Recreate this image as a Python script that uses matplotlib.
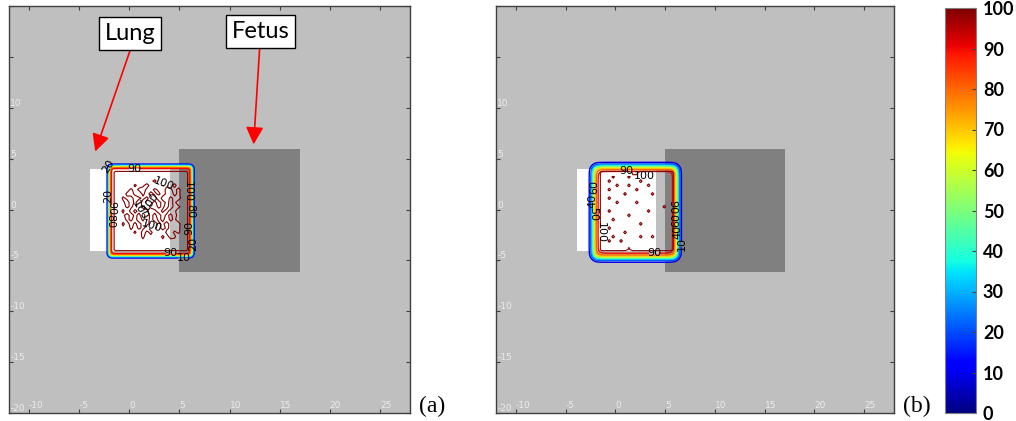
import numpy as np
import matplotlib
matplotlib.use("Agg")
import matplotlib.pyplot as plt
from matplotlib.patches import Rectangle
from matplotlib.colors import Normalize
from matplotlib.cm import ScalarMappable

# ---- data ----
dose_levels = [10, 20, 30, 40, 50, 60, 70, 80, 90]
hot_level = 100
cbar_ticks = [0, 10, 20, 30, 40, 50, 60, 70, 80, 90, 100]
x_ticks = [-10, -5, 0, 5, 10, 15, 20, 25]
y_ticks = [-20, -15, -10, -5, 0, 5, 10, 15, 20]
y_ticklabels = ["-20", "-15", "-10", "-5", "0", "5", "10", "", ""]

lung_x = [-3.9, 4.1]
lung_y = [-4.1, 4.0]
fetus_x = [5.0, 17.0]
fetus_y = [-6.1, 5.9]

# 50% field edges and penumbra width (cm) for the two plans
field_x_a = [-2.0, 6.25]
field_y_a = [-4.55, 4.25]
pen_a = 0.2
field_x_b = [-2.2, 6.2]
field_y_b = [-4.75, 4.2]
pen_b = 0.4
plateau = 99.0

# coarse dose grid inside the field, rows from top to bottom,
# one character per voxel (see dose_code for the % value)
dose_code = {".": 96.0, "0": 99.0, "1": 99.2, "2": 99.4, "3": 99.6, "4": 99.8,
             "6": 100.2, "7": 100.4, "8": 100.6, "9": 100.8, "#": 101.5}
node_x = np.linspace(-1.8, 6.1, 21)
node_y = np.linspace(-4.35, 4.05, 21)
voxels_a = [
    ".....................",
    ".###################.",
    ".#78877687778687787#.",
    ".#87768778647786876#.",
    ".#77684763787467387#.",
    ".#86747436746834738#.",
    ".#77436847364743647#.",
    ".#84673464738336437#.",
    ".#76374836463746487#.",
    ".#87463743674638347#.",
    ".#74836476347473487#.",
    ".#86374637463746378#.",
    ".#77463848374636487#.",
    ".#84736376436473438#.",
    ".#76847463747364347#.",
    ".#87674836476843648#.",
    ".#77868747687473487#.",
    ".#87787868778687787#.",
    ".#78877787877787877#.",
    ".###################.",
    ".....................",
]
voxels_b = [
    ".....................",
    ".########33#########.",
    ".#77477747774777777#.",
    ".#74777777747777777#.",
    ".#77747747777477777#.",
    ".#74777777477777777#.",
    ".#77777477777747777#.",
    ".#74777777777777777#.",
    ".#77747777477777777#.",
    ".#77777777777777747#.",
    ".#74777777777477777#.",
    ".#77777747777777777#.",
    ".#77477777777777777#.",
    ".#77777777747777777#.",
    ".#74777777777777777#.",
    ".#77777477777777777#.",
    ".#77477777747747777#.",
    ".#74774777777777777#.",
    ".#77777777777777777#.",
    ".#######3###########.",
    ".....................",
]

norm = Normalize(0, 100)
cmap = plt.get_cmap("jet")

gx = np.linspace(-6, 10, 641)
gy = np.linspace(-8, 8, 641)
GX, GY = np.meshgrid(gx, gy)


def field_dose(fx, fy, w):
    sx = 0.5 * (np.tanh((GX - fx[0]) / w) - np.tanh((GX - fx[1]) / w))
    sy = 0.5 * (np.tanh((GY - fy[0]) / w) - np.tanh((GY - fy[1]) / w))
    return plateau * sx * sy


def draw_panel(ax, fx, fy, w, voxels, labels):
    ax.set_facecolor("#bfbfbf")
    ax.add_patch(Rectangle((lung_x[0], lung_y[0]), lung_x[1] - lung_x[0],
                           lung_y[1] - lung_y[0], fc="white", ec="none", zorder=1))
    ax.add_patch(Rectangle((fetus_x[0], fetus_y[0]), fetus_x[1] - fetus_x[0],
                           fetus_y[1] - fetus_y[0], fc="#808080", ec="none", zorder=1))
    dose = field_dose(fx, fy, w)
    inner = np.array([[dose_code[c] for c in row] for row in voxels])[::-1]
    sets = {}
    for lev in dose_levels:
        sets[lev] = ax.contour(GX, GY, dose, levels=[lev], colors=[cmap(norm(lev))],
                               linewidths=1.0, zorder=2)
    sets[hot_level] = ax.contour(node_x, node_y, inner, levels=[hot_level],
                                 colors=[cmap(norm(hot_level))], linewidths=0.8, zorder=2)
    for lev, pts in labels:
        sets[lev].clabel(manual=pts, fontsize=8, colors="k",
                         inline=True, inline_spacing=1, fmt="%d")

    ax.set_xlim(-12, 28)
    ax.set_ylim(-20, 20)
    ax.set_xticks(x_ticks)
    ax.set_xticklabels([str(v) for v in x_ticks])
    ax.set_yticks(y_ticks)
    ax.set_yticklabels(y_ticklabels)
    ax.tick_params(axis="both", direction="in", length=3, width=0.8,
                   color="#404040", top=True, right=True, labelsize=6.5,
                   labelcolor="#ececec")
    ax.tick_params(axis="x", pad=-9)
    ax.tick_params(axis="y", pad=-1)
    for lab in ax.get_xticklabels():
        lab.set_ha("left")
    for lab in ax.get_yticklabels():
        lab.set_ha("left")
        lab.set_va("bottom")
    for sp in ax.spines.values():
        sp.set_color("#404040")
        sp.set_linewidth(1.0)


fig = plt.figure(figsize=(10.16, 4.21), dpi=100)
ax_a = fig.add_axes([9 / 1016, 8 / 421, 401 / 1016, 407 / 421])
ax_b = fig.add_axes([496 / 1016, 8 / 421, 398 / 1016, 407 / 421])
cax = fig.add_axes([945 / 1016, 8 / 421, 31 / 1016, 405 / 421])

# where the contour labels sit (cm)
labels_a = [(20, [(-2.2, 1.3), (-2.3, 4.3)]), (90, [(-2.2, 0.1), (0.5, 4.0), (4.1, -4.3)]),
            (80, [(-2.2, -1.1), (6.3, -0.2)]), (20, [(6.3, -3.4)]),
            (90, [(6.3, -1.8)]), (10, [(5.4, -4.9)]),
            (100, [(3.6, 2.6), (2.1, 0.8), (1.1, -0.1), (2.3, -1.6), (5.5, 1.8)])]
labels_b = [(40, [(-2.3, 0.8), (6.1, -2.2)]), (50, [(-2.3, -0.4)]),
            (60, [(-2.0, 2.2), (6.1, -1.0)]), (90, [(1.1, 3.8), (3.9, -4.3), (6.1, 0.2)]),
            (10, [(6.1, -3.4)]),
            (100, [(2.9, 3.4), (-1.2, -2.3)])]

draw_panel(ax_a, field_x_a, field_y_a, pen_a, voxels_a, labels_a)
draw_panel(ax_b, field_x_b, field_y_b, pen_b, voxels_b, labels_b)

arrow_style = "-|>,head_length=0.75,head_width=0.38"
ax_a.annotate("Lung", xy=(-3.4, 5.7), xytext=(0.05, 17.3), ha="center", va="center",
              fontsize=17, family="Lato",
              bbox=dict(boxstyle="square,pad=0.25", fc="white", ec="black", lw=1),
              arrowprops=dict(arrowstyle=arrow_style, color="red", lw=1.2,
                              mutation_scale=14, shrinkA=0, shrinkB=0, relpos=(0.55, 0)),
              zorder=5)
ax_a.annotate("Fetus", xy=(12.4, 6.4), xytext=(13.1, 17.5), ha="center", va="center",
              fontsize=17, family="Lato",
              bbox=dict(boxstyle="square,pad=0.25", fc="white", ec="black", lw=1),
              arrowprops=dict(arrowstyle=arrow_style, color="red", lw=1.2,
                              mutation_scale=14, shrinkA=0, shrinkB=0, relpos=(0.49, 0)),
              zorder=5)

cb = fig.colorbar(ScalarMappable(norm=norm, cmap=cmap), cax=cax, ticks=cbar_ticks)
cb.outline.set_edgecolor("#808080")
cb.outline.set_linewidth(0.8)
cax.tick_params(direction="in", length=3, color="#404040", labelsize=13, pad=5)
for lab in cax.get_yticklabels():
    lab.set_fontweight("bold")
    lab.set_family("Lato")

fig.text(432 / 1016, 15 / 421, "(a)", ha="center", va="center",
         family="Liberation Serif", fontsize=17)
fig.text(917 / 1016, 15 / 421, "(b)", ha="center", va="center",
         family="Liberation Serif", fontsize=17)

fig.savefig("out.png", dpi=100)
